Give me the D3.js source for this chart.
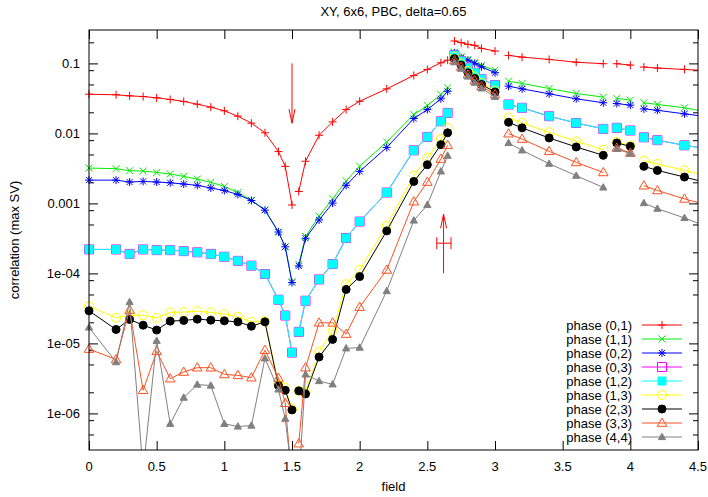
<!DOCTYPE html>
<html>
<head>
<meta charset="utf-8">
<script src="https://cdn.jsdelivr.net/npm/d3@7"></script>
<style>
  html, body { margin: 0; padding: 0; background: #fff; }
  svg { display: block; }
  text { font-family: "Liberation Sans", Arial, Helvetica, sans-serif; fill: #000; }
</style>
</head>
<body>
<svg id="chart" width="708" height="497"></svg>
<script>
// ---------------- data ----------------
const title = "XY, 6x6, PBC, delta=0.65";
const xLabel = "field";
const yLabel = "correlation (max SV)";
const xTicks = [0, 0.5, 1, 1.5, 2, 2.5, 3, 3.5, 4, 4.5];
const xTickLabels = ["0", "0.5", "1", "1.5", "2", "2.5", "3", "3.5", "4", "4.5"];
const yTicks = [0.1, 0.01, 0.001, 1e-4, 1e-5, 1e-6];
const yTickLabels = ["0.1", "0.01", "0.001", "1e-04", "1e-05", "1e-06"];

// null = break in the data (separate line segments)
const fields = [0, 0.2, 0.3, 0.4, 0.5, 0.6, 0.7, 0.8, 0.9, 1.0, 1.1, 1.2, 1.3, 1.4, 1.45, 1.5, null,
  1.55, 1.6, 1.7, 1.8, 1.9, 2.0, 2.2, 2.4, 2.5, 2.6, 2.65, null,
  2.7, 2.75, 2.8, 2.85, 2.9, 3.0, null,
  3.1, 3.2, 3.4, 3.6, 3.8, null,
  3.9, 4.0, null,
  4.1, 4.2, 4.4, 4.6];

const phase01 = [0.0363, 0.0356, 0.0344, 0.0336, 0.0322, 0.0305, 0.0286, 0.0261, 0.0237, 0.0210, 0.0176, 0.0140, 0.0102, 0.0055, 0.00338, 0.00095, null,
  0.00148, 0.0040, 0.0094, 0.0146, 0.0219, 0.0288, 0.0433, 0.0673, 0.082, 0.102, 0.111, null,
  0.209, 0.198, 0.187, 0.181, 0.164, 0.150, null,
  0.130, 0.123, 0.114, 0.104, 0.099, null,
  0.099, 0.0946, null,
  0.0886, 0.0857, 0.082, 0.078];

const phase11 = [0.0032, 0.00313, 0.00293, 0.0029, 0.00277, 0.00263, 0.00243, 0.00223, 0.0020, 0.00175, 0.00143, 0.00111, 0.00081, 0.00039, 0.00024, 7.6e-5, null,
  1.35e-4, 3.36e-4, 6.6e-4, 0.00116, 0.0021, 0.0034, 0.00755, 0.0186, 0.025, 0.036, 0.0449, null,
  0.145, 0.124, 0.114, 0.103, 0.093, 0.080, null,
  0.0558, 0.0517, 0.0438, 0.0372, 0.033, null,
  0.0316, 0.0299, null,
  0.0274, 0.0259, 0.0232, 0.0198];

const phase02 = [0.00215, 0.00215, 0.00202, 0.00206, 0.00202, 0.00197, 0.00189, 0.00181, 0.00166, 0.00153, 0.00134, 0.0011, 0.0008, 0.00039, 0.00024, 7.4e-5, null,
  1.28e-4, 3.18e-4, 5.8e-4, 0.00101, 0.00181, 0.00287, 0.0063, 0.0163, 0.0219, 0.0312, 0.040, null,
  0.142, 0.121, 0.111, 0.100, 0.0896, 0.0735, null,
  0.0473, 0.0433, 0.0368, 0.0312, 0.0274, null,
  0.0267, 0.0253, null,
  0.0224, 0.0214, 0.019, 0.017];

const phase03 = [2.2e-4, 2.2e-4, 1.9e-4, 2.2e-4, 2.15e-4, 2.15e-4, 2.08e-4, 2.0e-4, 1.9e-4, 1.73e-4, 1.51e-4, 1.29e-4, 9.8e-5, 4.2e-5, 2.5e-5, 7.4e-6, null,
  1.46e-5, 4.07e-5, 8.2e-5, 1.36e-4, 3.2e-4, 5.5e-4, 0.00143, 0.00573, 0.0089, 0.0149, 0.0196, null,
  0.131, 0.108, 0.0867, 0.0735, 0.060, 0.049, null,
  0.0259, 0.0232, 0.0176, 0.0141, 0.0116, null,
  0.012, 0.011, null,
  0.0088, 0.008, 0.00676, 0.0059];

const phase12 = [2.2e-4, 2.2e-4, 1.89e-4, 2.2e-4, 2.15e-4, 2.15e-4, 2.08e-4, 2.0e-4, 1.89e-4, 1.73e-4, 1.51e-4, 1.29e-4, 9.8e-5, 4.2e-5, 2.5e-5, 7.4e-6, null,
  1.46e-5, 4.07e-5, 8.2e-5, 1.36e-4, 3.2e-4, 5.5e-4, 0.00143, 0.00573, 0.0089, 0.0149, 0.0196, null,
  0.131, 0.108, 0.0867, 0.0735, 0.060, 0.049, null,
  0.0259, 0.0232, 0.0176, 0.0141, 0.0116, null,
  0.012, 0.011, null,
  0.0088, 0.008, 0.00676, 0.0059];

const phase13 = [3.4e-5, 2.32e-5, 2.53e-5, 2.53e-5, 2.32e-5, 2.77e-5, 2.8e-5, 2.89e-5, 2.77e-5, 2.62e-5, 2.4e-5, 2.03e-5, 2.08e-5, 2.6e-6, 2.3e-6, 1.15e-6, null,
  2.1e-6, 2.05e-6, 7.6e-6, 1.51e-5, 7.0e-5, 1.12e-4, 4.8e-4, 0.00251, 0.00446, 0.00834, 0.012, null,
  0.125, 0.100, 0.078, 0.065, 0.053, 0.041, null,
  0.0167, 0.0141, 0.0104, 0.0077, 0.00586, null,
  0.00755, 0.00668, null,
  0.00407, 0.00366, 0.00296, 0.00238];

const phase23 = [2.92e-5, 1.58e-5, 2.2e-5, 1.82e-5, 1.55e-5, 2.08e-5, 2.13e-5, 2.22e-5, 2.15e-5, 2.1e-5, 2.03e-5, 1.76e-5, 2.03e-5, 2.5e-6, 2.14e-6, 1.12e-6, null,
  2.1e-6, 1.9e-6, 6.4e-6, 1.14e-5, 5.9e-5, 9.0e-5, 4.05e-4, 0.00206, 0.00357, 0.0069, 0.0102, null,
  0.117, 0.0946, 0.0735, 0.061, 0.050, 0.039, null,
  0.0144, 0.012, 0.0086, 0.0064, 0.00486, null,
  0.0073, 0.00653, null,
  0.00338, 0.00296, 0.00238, 0.0019];

const phase33 = [8.3e-6, 5.9e-6, 3.0e-5, 2.14e-6, 7.7e-6, 3.14e-6, 3.9e-6, 4.5e-6, 4.5e-6, 3.6e-6, 3.5e-6, 3.24e-6, 8.0e-6, 3.2e-6, 1.4e-6, 1.0e-7, null,
  3.7e-7, 4.5e-6, 1.97e-5, 1.97e-5, 1.36e-5, 3.3e-5, 1.12e-4, 0.00106, 0.00202, 0.00431, 0.00676, null,
  0.110, 0.089, 0.069, 0.057, 0.047, 0.036, null,
  0.0099, 0.0083, 0.00555, 0.00385, 0.00277, null,
  0.0062, 0.00526, null,
  0.00179, 0.00153, 0.00116, 9.1e-4];

const phase44 = [1.69e-5, 5.4e-6, 3.9e-5, 1.5e-7, 1.09e-5, 7.1e-7, 1.68e-6, 2.58e-6, 2.5e-6, 7.1e-7, 6.5e-7, 6.7e-7, 6.1e-6, 2.2e-6, 8.4e-7, 1.3e-7, null,
  1.0e-7, 3.6e-6, 2.9e-6, 2.6e-6, 8.5e-6, 8.7e-6, 5.6e-5, 5.7e-4, 9.5e-4, 0.00287, 0.0048, null,
  0.104, 0.084, 0.065, 0.053, 0.044, 0.0333, null,
  0.0073, 0.00573, 0.00369, 0.00249, 0.00169, null,
  0.006, 0.00514, null,
  0.00101, 8.4e-4, 6.2e-4, 4.4e-4];

const seriesNames = ["phase (0,1)", "phase (1,1)", "phase (0,2)", "phase (0,3)", "phase (1,2)",
  "phase (1,3)", "phase (2,3)", "phase (3,3)", "phase (4,4)"];
const seriesValues = [phase01, phase11, phase02, phase03, phase12, phase13, phase23, phase33, phase44];
const seriesColors = ["#ff0000", "#00ee00", "#0000ff", "#ff00ff", "#00ffff", "#ffff00", "#000000", "#ff5020", "#808080"];
const seriesMarkers = ["plus", "cross", "star", "squareOpen", "squareFill", "circleOpen", "circleFill", "triOpen", "triFill"];

// arrows / annotation (data coordinates)
const arrowDown = { x: 1.5, from: 0.1, to: 0.014 };
const arrowUp = { x: 2.62, from: 1e-4, to: 7e-4 };
const errBar = { x1: 2.57, x2: 2.675, y: 2.7e-4 };

// ---------------- layout ----------------
const svg = d3.select("#chart");
const L = 89, R = 698, T = 30, B = 450;
const x = d3.scaleLinear().domain([0, 4.5]).range([L, R]);
const y = d3.scaleLog().domain([3e-7, 0.3]).range([B, T]);
const FS = 13;

svg.append("defs").append("clipPath").attr("id", "clip")
  .append("rect").attr("x", L).attr("y", T).attr("width", R - L).attr("height", B - T);

// title and labels
svg.append("text").attr("x", (L + R) / 2).attr("y", 16).attr("text-anchor", "middle")
  .style("font-size", FS + "px").text(title);
svg.append("text").attr("x", (L + R) / 2).attr("y", 491).attr("text-anchor", "middle")
  .style("font-size", FS + "px").text(xLabel);
svg.append("text").attr("transform", `translate(19,${(T + B) / 2}) rotate(-90)`)
  .attr("text-anchor", "middle").style("font-size", FS + "px").text(yLabel);

// axes via d3-axis (ticks pointing inward)
const axBottom = d3.axisTop(x).tickValues(xTicks).tickSize(9).tickFormat(() => "");
const axTop = d3.axisBottom(x).tickValues(xTicks).tickSize(9).tickFormat(() => "");
svg.append("g").attr("transform", `translate(0,${B})`).call(axBottom);
svg.append("g").attr("transform", `translate(0,${T})`).call(axTop);

const minorY = [];
for (let e = -7; e <= -1; e++) {
  [2, 5, 8].forEach(m => {
    const v = m * Math.pow(10, e);
    if (v >= 3e-7 && v <= 0.3) minorY.push(v);
  });
}
const axLeft = d3.axisRight(y).tickValues(yTicks).tickSize(9).tickFormat(() => "");
const axRight = d3.axisLeft(y).tickValues(yTicks).tickSize(9).tickFormat(() => "");
const axLeftMinor = d3.axisRight(y).tickValues(minorY).tickSize(5).tickFormat(() => "");
const axRightMinor = d3.axisLeft(y).tickValues(minorY).tickSize(5).tickFormat(() => "");
svg.append("g").attr("transform", `translate(${L},0)`).call(axLeft);
svg.append("g").attr("transform", `translate(${R},0)`).call(axRight);
svg.append("g").attr("transform", `translate(${L},0)`).call(axLeftMinor);
svg.append("g").attr("transform", `translate(${R},0)`).call(axRightMinor);
svg.selectAll(".domain").remove();
svg.selectAll(".tick line").attr("stroke", "#000").attr("stroke-width", 1);

// tick labels
xTicks.forEach((t, i) => {
  svg.append("text").attr("x", x(t)).attr("y", B + 21).attr("text-anchor", "middle")
    .style("font-size", FS + "px").text(xTickLabels[i]);
});
yTicks.forEach((t, i) => {
  svg.append("text").attr("x", L - 9).attr("y", y(t) + 4.5).attr("text-anchor", "end")
    .style("font-size", FS + "px").text(yTickLabels[i]);
});

// ---------------- series ----------------
function markerPath(type) {
  switch (type) {
    case "plus": return "M-4,0H4M0,-4V4";
    case "cross": return "M-3.5,-3.5L3.5,3.5M-3.5,3.5L3.5,-3.5";
    case "star": return "M-4,0H4M0,-4V4M-3,-3L3,3M-3,3L3,-3";
    case "squareOpen": return "M-4.5,-4.5H4.5V4.5H-4.5Z";
    case "squareFill": return "M-4.5,-4.5H4.5V4.5H-4.5Z";
    case "circleOpen": return d3.arc()({ innerRadius: 0, outerRadius: 4.5, startAngle: 0, endAngle: 2 * Math.PI });
    case "circleFill": return d3.arc()({ innerRadius: 0, outerRadius: 4, startAngle: 0, endAngle: 2 * Math.PI });
    case "triOpen": return "M0,-5L4.8,3.3H-4.8Z";
    case "triFill": return "M0,-3.8L3.6,2.6H-3.6Z";
  }
}
function isFilled(type) { return type === "squareFill" || type === "circleFill" || type === "triFill"; }
function styleMarker(sel, type, color) {
  sel.attr("d", markerPath(type))
    .attr("fill", isFilled(type) ? color : "none")
    .attr("stroke", color)
    .attr("stroke-width", type === "squareFill" ? 0 : 1);
}

const line = d3.line()
  .defined(d => d.x != null && d.v != null)
  .x(d => x(d.x)).y(d => y(d.v));

const plotG = svg.append("g");
seriesValues.forEach((vals, si) => {
  const pts = fields.map((f, i) => ({ x: f, v: vals[i] }));
  const g = plotG.append("g");
  g.append("path").datum(pts).attr("d", line).attr("clip-path", "url(#clip)")
    .attr("fill", "none").attr("stroke", seriesColors[si]).attr("stroke-width", 1);
  const inRange = pts.filter(d => d.x != null && d.v != null && d.x >= 0 && d.x <= 4.5 && d.v >= 3e-7 && d.v <= 0.3);
  g.selectAll("path.m").data(inRange).enter().append("path").attr("class", "m")
    .attr("transform", d => `translate(${x(d.x)},${y(d.v)})`)
    .call(styleMarker, seriesMarkers[si], seriesColors[si]);
});

// ---------------- arrows ----------------
const red = "#ff0000";
function arrow(xv, v0, v1) {
  const X = x(xv), Y0 = y(v0), Y1 = y(v1);
  const dir = Y1 > Y0 ? -1 : 1;
  svg.append("path")
    .attr("d", `M${X},${Y0}L${X},${Y1}M${X - 3},${Y1 + dir * 14}L${X},${Y1}L${X + 3},${Y1 + dir * 14}`)
    .attr("fill", "none").attr("stroke", red).attr("stroke-width", 1);
}
arrow(arrowDown.x, arrowDown.from, arrowDown.to);
arrow(arrowUp.x, arrowUp.from, arrowUp.to);
{
  const X1 = x(errBar.x1), X2 = x(errBar.x2), Y = y(errBar.y);
  svg.append("path")
    .attr("d", `M${X1},${Y}H${X2}M${X1},${Y - 6}V${Y + 6}M${X2},${Y - 6}V${Y + 6}`)
    .attr("fill", "none").attr("stroke", red).attr("stroke-width", 1);
}

// ---------------- border ----------------
svg.append("rect").attr("x", L).attr("y", T).attr("width", R - L).attr("height", B - T)
  .attr("fill", "none").attr("stroke", "#000").attr("stroke-width", 1);

// ---------------- legend ----------------
const legX = 632, legY0 = 325, legDy = 14;
seriesNames.forEach((name, i) => {
  const yy = legY0 + i * legDy;
  svg.append("text").attr("x", legX).attr("y", yy + 4.5).attr("text-anchor", "end")
    .style("font-size", FS + "px").text(name);
  svg.append("line").attr("x1", 642).attr("x2", 682).attr("y1", yy).attr("y2", yy)
    .attr("stroke", seriesColors[i]).attr("stroke-width", 1);
  svg.append("path").attr("transform", `translate(662,${yy})`)
    .call(styleMarker, seriesMarkers[i], seriesColors[i]);
});
</script>
</body>
</html>
